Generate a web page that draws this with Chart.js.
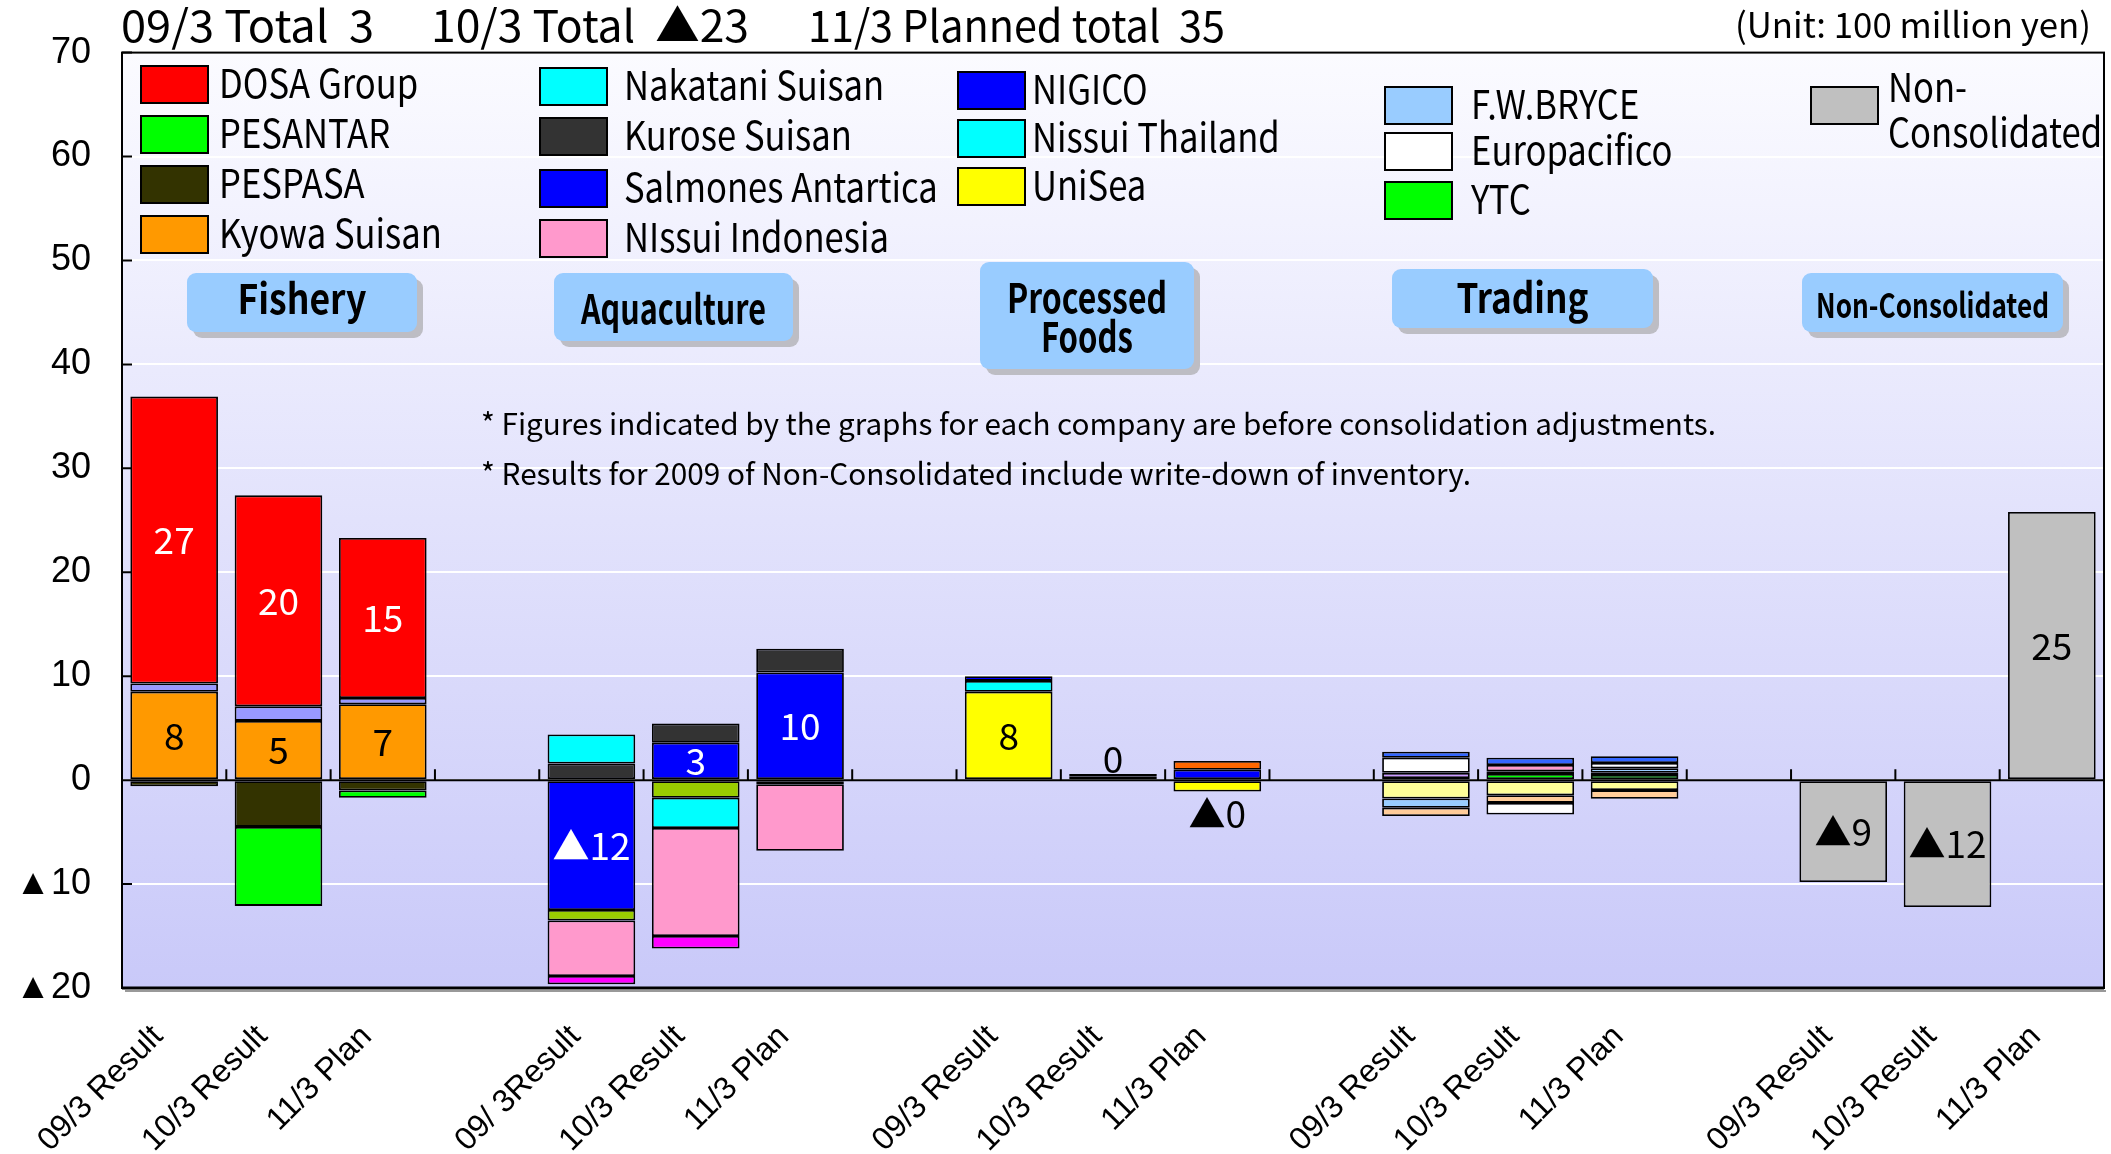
<!DOCTYPE html>
<html>
<head>
<meta charset="utf-8">
<script src="https://cdn.jsdelivr.net/npm/chart.js@4.4.1/dist/chart.umd.min.js"></script>
<style>
  html, body { margin: 0; padding: 0; background: #fff; }
  canvas { display: block; }
</style>
</head>
<body>
<canvas id="chart" width="2111" height="1154"></canvas>
<script>
(function(){
    // x categories: 5 segments of 3 bars, one empty slot between segments
    const categories = [
        '09/3 Result', '10/3 Result', '11/3 Plan', '',
        '09/ 3Result', '10/3 Result', '11/3 Plan', '',
        '09/3 Result', '10/3 Result', '11/3 Plan', '',
        '09/3 Result', '10/3 Result', '11/3 Plan', '',
        '09/3 Result', '10/3 Result', '11/3 Plan'
    ];
    const yTicks = [-20, -10, 0, 10, 20, 30, 40, 50, 60, 70];

    // Fishery (09/3, 10/3, 11/3)
    const kyowaSuisan = [8.5, 5.7, 7.3];
    const fisheryOther = [0.8, 1.4, 0.6];
    const dosaGroup = [27.6, 20.3, 15.4];
    const pespasa = [-0.6, -4.5, -1.0];
    const pesantar = [null, -7.6, -0.7];
    // Aquaculture
    const salmonesAntartica = [-12.5, 3.6, 10.35];
    const kuroseSuisan = [1.6, 1.85, 2.3];
    const aquaOtherA = [-1.0, -1.7, null];
    const nakataniSuisan = [2.8, -2.9, -0.4];
    const nissuiIndonesia = [-5.35, -10.4, -6.4];
    const aquaOtherB = [-0.8, -1.2, null];
    // Processed Foods
    const uniSea = [8.5, 0.33, -1.1];
    const nissuiThailand = [1.05, null, null];
    const nigico = [0.45, null, 1.0];
    const processedOtherA = [null, 0.27, null];
    const processedOtherB = [null, null, 0.85];
    // Trading
    const ytc = [null, 0.6, 0.5];
    const tradingOtherA = [0.2, 0.25, 0.2];
    const tradingOtherB = [0.5, null, null];
    const tradingOtherC = [null, 0.6, null];
    const tradingOtherD = [-1.76, -1.45, -0.96];
    const fwBryce = [-0.9, null, 0.45];
    const tradingOtherE = [-0.8, -0.74, -0.83];
    const europacifico = [1.45, -1.12, 0.5];
    const tradingOtherF = [0.58, 0.7, 0.65];
    // Non-Consolidated
    const nonConsolidated = [-9.8, -12.2, 25.8];

    // numbers printed on the bars
    const dosaLabels = ['27', '20', '15'];
    const kyowaLabels = ['8', '5', '7'];
    const salmonesLabels = ['▲12', '3', '10'];
    const uniSeaLabels = ['8', '', ''];
    const nonConsLabels = ['▲9', '▲12', '25'];
    const processedTotals = ['', '0', '▲0'];

    const titleParts = ['09/3 Total  3', '10/3 Total  ▲23', '11/3 Planned total  35'];
    const unitText = '(Unit: 100 million yen)';
    const notes = [
        '* Figures indicated by the graphs for each company are before consolidation adjustments.',
        '* Results for 2009 of Non-Consolidated include write-down of inventory.'
    ];

    const GOTHIC = '"Noto Sans CJK JP", "DejaVu Sans", sans-serif';
    const ARIAL = '"Liberation Sans", Arial, sans-serif';

    // put 3 values of a segment into the 19 slots
    function place(group, values)
    {
        let out = new Array(categories.length).fill(null);
        for(let i = 0; i < values.length; i++)
        {
            out[group * 4 + i] = values[i];
        }
        return out;
    }

    function ds(label, group, values, color, labels, labelColor)
    {
        return {
            label: label,
            data: place(group, values),
            backgroundColor: color,
            borderColor: '#000',
            borderWidth: 1.8,
            borderSkipped: false,
            categoryPercentage: 1,
            barPercentage: 0.84,
            valueLabels: labels ? place(group, labels) : null,
            labelColor: labelColor || '#000'
        };
    }

    // dataset order = stacking order (upwards for +, downwards for -)
    const datasets = [
        ds('Kyowa Suisan', 0, kyowaSuisan, '#ff9900', kyowaLabels, '#000'),
        ds('Fishery other', 0, fisheryOther, '#9999ff'),
        ds('DOSA Group', 0, dosaGroup, '#ff0000', dosaLabels, '#fff'),
        ds('PESPASA', 0, pespasa, '#333300'),
        ds('PESANTAR', 0, pesantar, '#00ff00'),

        ds('Salmones Antartica', 1, salmonesAntartica, '#0000ff', salmonesLabels, '#fff'),
        ds('Kurose Suisan', 1, kuroseSuisan, '#333333'),
        ds('Aquaculture other A', 1, aquaOtherA, '#99cc00'),
        ds('Nakatani Suisan', 1, nakataniSuisan, '#00ffff'),
        ds('NIssui Indonesia', 1, nissuiIndonesia, '#ff99cc'),
        ds('Aquaculture other B', 1, aquaOtherB, '#ff00ff'),

        ds('UniSea', 2, uniSea, '#ffff00', uniSeaLabels, '#000'),
        ds('Nissui Thailand', 2, nissuiThailand, '#00ffff'),
        ds('NIGICO', 2, nigico, '#0000ff'),
        ds('Processed other A', 2, processedOtherA, '#663300'),
        ds('Processed other B', 2, processedOtherB, '#ff6600'),

        ds('YTC', 3, ytc, '#00ff00'),
        ds('Trading other A', 3, tradingOtherA, '#000000'),
        ds('Trading other B', 3, tradingOtherB, '#cc99ff'),
        ds('Trading other C', 3, tradingOtherC, '#ff99cc'),
        ds('Trading other D', 3, tradingOtherD, '#ffff99'),
        ds('F.W.BRYCE', 3, fwBryce, '#99ccff'),
        ds('Trading other E', 3, tradingOtherE, '#ffcc99'),
        ds('Europacifico', 3, europacifico, '#ffffff'),
        ds('Trading other F', 3, tradingOtherF, '#3366ff'),

        ds('Non-Consolidated', 4, nonConsolidated, '#c0c0c0', nonConsLabels, '#000')
    ];
    const totalsRow = place(2, processedTotals);

    // legend columns, drawn by hand inside the plot
    const legendColumns = [
        {x: 141, tx: 78, tops: [66, 116, 166, 216], items: ['DOSA Group', 'PESANTAR', 'PESPASA', 'Kyowa Suisan']},
        {x: 540, tx: 84, tops: [68, 118, 170, 220], items: ['Nakatani Suisan', 'Kurose Suisan', 'Salmones Antartica', 'NIssui Indonesia']},
        {x: 958, tx: 74, tops: [72, 120, 168], items: ['NIGICO', 'Nissui Thailand', 'UniSea']},
        {x: 1385, tx: 86, tops: [87, 133, 182], items: ['F.W.BRYCE', 'Europacifico', 'YTC']},
        {x: 1811, tx: 77, tops: [87], items: ['Non-Consolidated'], lines: [['Non-', 'Consolidated']]}
    ];
    const groupBoxes = [
        {text: ['Fishery'], x: 187, y: 273, w: 230, h: 59, base: [314], tw: [129]},
        {text: ['Aquaculture'], x: 554, y: 273, w: 239, h: 68, base: [324], tw: [185]},
        {text: ['Processed', 'Foods'], x: 980, y: 262, w: 214, h: 107, base: [313, 352], tw: [160, 92]},
        {text: ['Trading'], x: 1392, y: 269, w: 261, h: 59, base: [313], tw: [132]},
        {text: ['Non-Consolidated'], x: 1802, y: 273, w: 261, h: 59, base: [318], tw: [233], size: 34}
    ];

    function fitText(ctx, text, x, y, width, align)
    {
        const w = ctx.measureText(text).width;
        const s = width ? width / w : 1;
        ctx.save();
        ctx.translate(x, y);
        ctx.scale(s, 1);
        ctx.textAlign = 'left';
        let dx = 0;
        if (align == 'center') dx = -w / 2;
        else if (align == 'right') dx = -w;
        ctx.fillText(text, dx, 0);
        ctx.restore();
    }

    const decor = {
        id: 'decor',
        beforeDraw(chart) {
            const {ctx, chartArea: a} = chart;
            const g = ctx.createLinearGradient(0, a.top, 0, a.bottom);
            g.addColorStop(0, '#fbfbff');
            g.addColorStop(1, '#c9c9f9');
            ctx.save();
            ctx.fillStyle = g;
            ctx.fillRect(a.left, a.top, a.right - a.left, a.bottom - a.top);
            ctx.restore();
        },
        beforeDatasetsDraw(chart) {
            const {ctx, chartArea: a, scales} = chart;
            const x = scales.x, y = scales.y;
            const y0 = y.getPixelForValue(0);
            ctx.save();
            ctx.strokeStyle = '#000';
            ctx.lineWidth = 2;
            ctx.beginPath();
            ctx.moveTo(a.left, y0);
            ctx.lineTo(a.right, y0);
            // small tick marks between categories, pointing up
            for(let k = 1; k < categories.length; k++)
            {
                const px = (x.getPixelForValue(k - 1) + x.getPixelForValue(k)) / 2;
                ctx.moveTo(px, y0);
                ctx.lineTo(px, y0 - 11);
            }
            // y ticks, pointing inwards
            y.ticks.forEach(t => {
                const py = y.getPixelForValue(t.value);
                ctx.moveTo(a.left, py);
                ctx.lineTo(a.left + 10, py);
            });
            ctx.stroke();
            ctx.restore();
        },
        afterDatasetsDraw(chart) {
            const {ctx, chartArea: a} = chart;
            ctx.save();
            // value labels
            ctx.font = '37px ' + GOTHIC;
            ctx.textAlign = 'center';
            ctx.textBaseline = 'middle';
            chart.data.datasets.forEach((d, di) => {
                if (!d.valueLabels) return;
                const meta = chart.getDatasetMeta(di);
                meta.data.forEach((bar, i) => {
                    const t = d.valueLabels[i];
                    if (!t) return;
                    ctx.fillStyle = d.labelColor;
                    ctx.fillText(t, bar.x, (bar.y + bar.base) / 2);
                });
            });
            // totals above / below a bar
            ctx.fillStyle = '#000';
            totalsRow.forEach((t, i) => {
                if (!t) return;
                let top = Infinity, bottom = -Infinity, cx = 0;
                chart.data.datasets.forEach((d, di) => {
                    if (d.data[i] == null) return;
                    const bar = chart.getDatasetMeta(di).data[i];
                    top = Math.min(top, bar.y, bar.base);
                    bottom = Math.max(bottom, bar.y, bar.base);
                    cx = bar.x;
                });
                if (t.charAt(0) == '▲') {
                    ctx.textBaseline = 'top';
                    ctx.fillText(t, cx, bottom + 4);
                } else {
                    ctx.textBaseline = 'alphabetic';
                    ctx.fillText(t, cx, top - 1);
                }
            });
            // frame
            ctx.strokeStyle = '#000';
            ctx.lineWidth = 2;
            ctx.strokeRect(a.left, a.top, a.right - a.left, a.bottom - a.top);
            ctx.lineWidth = 3;
            ctx.beginPath();
            ctx.moveTo(a.left, a.bottom);
            ctx.lineTo(a.right, a.bottom);
            ctx.stroke();
            ctx.strokeStyle = '#999';
            ctx.lineWidth = 2;
            ctx.beginPath();
            ctx.moveTo(a.left + 3, a.bottom + 3);
            ctx.lineTo(a.right + 2, a.bottom + 3);
            ctx.stroke();
            ctx.restore();
        },
        afterDraw(chart) {
            const ctx = chart.ctx;
            ctx.save();
            ctx.fillStyle = '#000';
            ctx.textBaseline = 'alphabetic';

            // title line
            ctx.font = '44px ' + GOTHIC;
            fitText(ctx, titleParts[0], 121, 42, 253);
            fitText(ctx, titleParts[1], 431, 42, 318);
            fitText(ctx, titleParts[2], 808, 42, 417);
            ctx.font = '35px ' + GOTHIC;
            fitText(ctx, unitText, 2091, 38, 356, 'right');

            // legend
            const colorOf = {};
            chart.data.datasets.forEach(d => { colorOf[d.label] = d.backgroundColor; });
            ctx.font = '40px ' + GOTHIC;
            const squeeze = 0.865;
            legendColumns.forEach(col => {
                col.items.forEach((name, r) => {
                    const top = col.tops[r];
                    ctx.fillStyle = colorOf[name];
                    ctx.fillRect(col.x, top, 67, 37);
                    ctx.strokeStyle = '#000';
                    ctx.lineWidth = 2;
                    ctx.strokeRect(col.x, top, 67, 37);
                    ctx.fillStyle = '#000';
                    const parts = col.lines ? col.lines[r] : [name];
                    parts.forEach((p, j) => {
                        const w = ctx.measureText(p).width * squeeze;
                        const by = col.lines ? top + 15 + j * 45 : top + 32;
                        fitText(ctx, p, col.x + col.tx, by, w);
                    });
                });
            });

            // segment name boxes
            groupBoxes.forEach(b => {
                ctx.fillStyle = '#bdbdc4';
                ctx.beginPath();
                ctx.roundRect(b.x + 6, b.y + 6, b.w, b.h, 9);
                ctx.fill();
                ctx.fillStyle = '#99ccff';
                ctx.beginPath();
                ctx.roundRect(b.x, b.y, b.w, b.h, 9);
                ctx.fill();
                ctx.fillStyle = '#000';
                ctx.font = 'bold ' + (b.size || 41) + 'px ' + GOTHIC;
                b.text.forEach((t, i) => {
                    fitText(ctx, t, b.x + b.w / 2, b.base[i], b.tw[i], 'center');
                });
            });

            // notes
            ctx.font = '30px ' + GOTHIC;
            fitText(ctx, notes[0], 481, 435, 1235);
            fitText(ctx, notes[1], 481, 485, 990);
            ctx.restore();
        }
    };

    const ctx = document.getElementById('chart').getContext('2d');
    new Chart(ctx, {
        type: 'bar',
        data: {
            labels: categories,
            datasets: datasets
        },
        options: {
            responsive: false,
            animation: false,
            layout: {padding: {top: 52, right: 7, left: 0, bottom: 0}},
            plugins: {
                legend: {display: false},
                tooltip: {enabled: false}
            },
            scales: {
                x: {
                    stacked: true,
                    grid: {display: false},
                    border: {display: false},
                    ticks: {
                        autoSkip: false,
                        minRotation: 45,
                        maxRotation: 45,
                        padding: 22,
                        labelOffset: -16,
                        color: '#000',
                        font: {family: ARIAL, size: 32}
                    },
                    afterFit: function(s) { s.height = 166; }
                },
                y: {
                    stacked: true,
                    min: yTicks[0],
                    max: yTicks[yTicks.length - 1],
                    grid: {color: '#ffffff', lineWidth: 2, drawTicks: false},
                    border: {display: false},
                    ticks: {
                        stepSize: 10,
                        padding: 31,
                        color: '#000',
                        font: {family: ARIAL, size: 36},
                        callback: function(v) { return v < 0 ? '▲' + (-v) : String(v); }
                    },
                    afterFit: function(s) { s.width = 122; }
                }
            }
        },
        plugins: [decor]
    });
})()
</script>
</body>
</html>
